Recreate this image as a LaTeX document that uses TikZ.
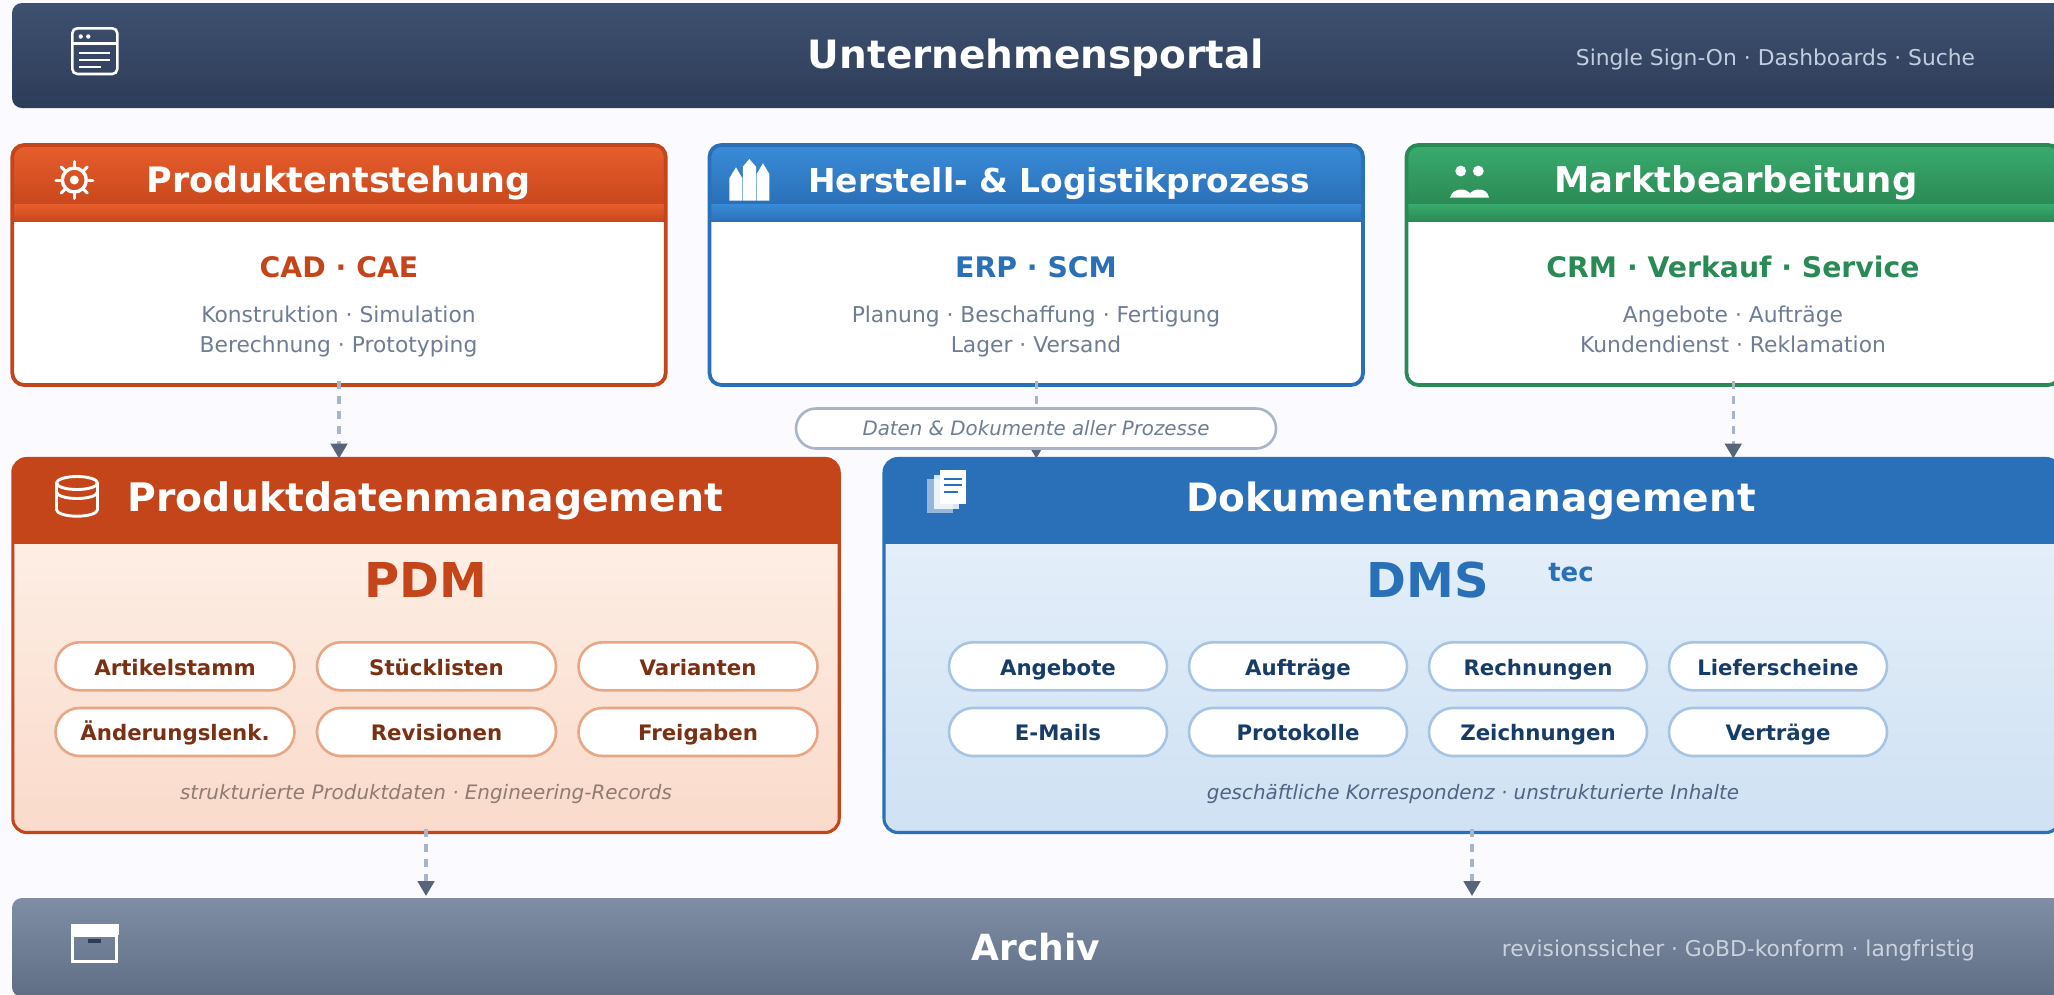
\documentclass[tikz,border=0pt]{standalone}
\usepackage{fontspec}
\setmainfont{DejaVu Sans}
\usetikzlibrary{arrows.meta,calc}
\definecolor{bgc}{HTML}{FAFAFF}
\definecolor{orgS}{HTML}{C4451A}\definecolor{orgT}{HTML}{E85D2D}\definecolor{orgB}{HTML}{C9481C}
\definecolor{bluS}{HTML}{2A70B8}\definecolor{bluT}{HTML}{3A8BD8}\definecolor{bluB}{HTML}{2A70B8}
\definecolor{grnS}{HTML}{2A8A55}\definecolor{grnT}{HTML}{3AAB6E}\definecolor{grnB}{HTML}{2A8A55}
\definecolor{navyT}{HTML}{3F5170}\definecolor{navyB}{HTML}{2D3C58}
\definecolor{greyT}{HTML}{7F8EA5}\definecolor{greyB}{HTML}{5F6E85}
\definecolor{subC}{HTML}{6F7D93}
\definecolor{dashC}{HTML}{A9B4C6}\definecolor{tipC}{HTML}{566579}
\definecolor{pdmT}{HTML}{FDEEE4}\definecolor{pdmB}{HTML}{FADACB}
\definecolor{dmsT}{HTML}{E3EEF9}\definecolor{dmsB}{HTML}{CFE1F3}
\definecolor{pillO}{HTML}{E8A684}\definecolor{pillB}{HTML}{A6C4E4}
\definecolor{txtO}{HTML}{7A3012}\definecolor{txtB}{HTML}{173C68}
\definecolor{barT}{HTML}{C3CDE0}\definecolor{barA}{HTML}{CAD2DE}
\definecolor{capO}{HTML}{8F7B72}\definecolor{capB}{HTML}{4F6582}
\tikzset{
  x=1pt,y=-1pt,
  lbl/.style={anchor=base,inner sep=0pt,outer sep=0pt},
  title/.style={lbl,text=white,font=\fontsize{39}{39}\bfseries\selectfont},
  cardtitle/.style={lbl,text=white,font=\fontsize{35}{35}\bfseries\selectfont},
  cardhead/.style={lbl,font=\fontsize{28.3}{29}\bfseries\selectfont},
  cardsub/.style={lbl,text=subC,font=\fontsize{21.8}{22}\selectfont},
  barsub/.style={lbl,anchor=base east,font=\fontsize{21.8}{22}\selectfont},
  caption/.style={lbl,font=\fontsize{19.9}{20}\itshape\selectfont},
  big/.style={lbl,font=\fontsize{48}{48}\bfseries\selectfont},
  cardframe/.style={draw=#1,line width=3.8pt,rounded corners=12pt,inner sep=0pt,outer sep=0pt,minimum height=240pt},
  sysframe/.style={draw=#1,line width=3.1pt,rounded corners=14pt,inner sep=0pt,outer sep=0pt,minimum height=374pt},
  pillbase/.style={fill=white,line width=2.6pt,rounded corners=24pt,inner sep=0pt,outer sep=0pt,
    minimum height=48pt,text height=17.4pt,text depth=0pt,font=\fontsize{21.3}{22}\bfseries\selectfont},
  pillo/.style={pillbase,draw=pillO,text=txtO,minimum width=239pt},
  pillb/.style={pillbase,draw=pillB,text=txtB,minimum width=218pt},
  conn/.style={draw=dashC,line width=3.4pt,dash pattern=on 8pt off 7pt,
    -{Triangle[width=16.5pt,length=15pt,color=tipC,fill=tipC]}},
  iconline/.style={draw=white,line width=2.6pt},
}
\begin{document}
\begin{tikzpicture}
\useasboundingbox (0,0) rectangle (2054,994);
\clip (0,0) rectangle (2054,994);
\fill[bgc] (0,0) rectangle (2054,994);

% Top bar
\shade[top color=navyT,bottom color=navyB,rounded corners=10pt] (12,3) rectangle (2070,108);
\node[title] (portal) at (1036,68) {Unternehmensportal};
\node[barsub,text=barT] (portalsub) at (1975,65) {Single Sign-On · Dashboards · Suche};
\draw[iconline,rounded corners=5pt] (72.3,28.3) rectangle (117.3,74);
\draw[iconline] (72.3,43.3) -- (117.3,43.3);
\fill[white] (80.7,36.5) circle (2.2) (88.3,36.5) circle (2.2);
\draw[white,line width=2.2pt] (79.3,53.3) -- (110,53.3) (79.3,60) -- (110,60) (79.3,66.7) -- (101.3,66.7);

% Cards
\begin{scope}
\clip[rounded corners=12pt] (12.3,145) rectangle (665.7,385);
\fill[white] (12.3,145) rectangle (665.7,385);
\shade[top color=orgT,bottom color=orgB] (12.3,145) rectangle (665.7,204);
\shade[top color=orgT,bottom color=orgB] (12.3,204) rectangle (665.7,221);
\end{scope}
\node[cardframe=orgS,minimum width=653.4pt] (c1) at (339,265) {};
\begin{scope}
\clip[rounded corners=12pt] (709.5,145) rectangle (1363,385);
\fill[white] (709.5,145) rectangle (1363,385);
\shade[top color=bluT,bottom color=bluB] (709.5,145) rectangle (1363,204);
\shade[top color=bluT,bottom color=bluB] (709.5,204) rectangle (1363,221);
\end{scope}
\node[cardframe=bluS,minimum width=653.5pt] (c2) at (1036.25,265) {};
\begin{scope}
\clip[rounded corners=12pt] (1406.5,145) rectangle (2060,385);
\fill[white] (1406.5,145) rectangle (2060,385);
\shade[top color=grnT,bottom color=grnB] (1406.5,145) rectangle (2060,204);
\shade[top color=grnT,bottom color=grnB] (1406.5,204) rectangle (2060,221);
\end{scope}
\node[cardframe=grnS,minimum width=653.5pt] (c3) at (1733.25,265) {};

\node[cardtitle] (t1) at (338.5,192) {Produktentstehung};
\node[cardtitle,font=\fontsize{32.9}{33}\bfseries\selectfont] (t2) at (1059,192) {Herstell- \& Logistikprozess};
\node[cardtitle,font=\fontsize{35.5}{36}\bfseries\selectfont] (t3) at (1736,192) {Marktbearbeitung};
\node[cardhead,text=orgS] (h1) at (339,277) {CAD · CAE};
\node[cardhead,text=bluS] (h2) at (1036,277) {ERP · SCM};
\node[cardhead,text=grnS] (h3) at (1733,277) {CRM · Verkauf · Service};
\node[cardsub] (s11) at (338.5,322) {Konstruktion · Simulation};
\node[cardsub] (s12) at (338.5,352.5) {Berechnung · Prototyping};
\node[cardsub] (s21) at (1036,322) {Planung · Beschaffung · Fertigung};
\node[cardsub] (s22) at (1036,352.5) {Lager · Versand};
\node[cardsub] (s31) at (1733,322) {Angebote · Aufträge};
\node[cardsub] (s32) at (1733,352.5) {Kundendienst · Reklamation};

% gear icon
\draw[white,line width=3.4pt] (74.3,180) circle (12);
\fill[white] (74.3,180) circle (4.5);
\foreach \a in {0,45,...,315}
  \draw[white,line width=3pt,line cap=round] ($(74.3,180)+(\a:13)$) -- ($(74.3,180)+(\a:18.5)$);
% factory icon
\fill[white] (729.3,200.7) -- (729.3,178.3) -- (736,167.3) -- (742.3,178.3) -- (742.3,200.7) -- cycle;
\fill[white] (742.8,200.7) -- (742.8,166.7) -- (749.3,159) -- (756,166.7) -- (756,200.7) -- cycle;
\fill[white] (756.6,200.7) -- (756.6,174) -- (763,163.3) -- (769.3,174) -- (769.3,200.7) -- cycle;
% people icon
\fill[white] (1460.7,171) circle (5.4) (1478.3,171) circle (5.4);
\fill[white] (1450,197.7) .. controls (1451.5,192) and (1456,189.5) .. (1461,189.5) .. controls (1465,189.5) and (1468,191) .. (1470,193) .. controls (1472,191) and (1475,189.5) .. (1479,189.5) .. controls (1484,189.5) and (1488,192) .. (1489,197.7) -- cycle;

% Systems
\begin{scope}
\clip[rounded corners=14pt] (12.8,458.5) rectangle (839.2,832.5);
\shade[top color=pdmT,bottom color=pdmB] (12.8,544) rectangle (839.2,832.5);
\fill[orgS] (12.8,458.5) rectangle (839.2,544);
\end{scope}
\node[sysframe=orgS,minimum width=826.4pt] (pdm) at (426,645.5) {};
\begin{scope}
\clip[rounded corners=14pt] (884,458.5) rectangle (2060,832.5);
\shade[top color=dmsT,bottom color=dmsB] (884,544) rectangle (2060,832.5);
\fill[bluS] (884,458.5) rectangle (2060,544);
\end{scope}
\node[sysframe=bluS,minimum width=1176pt] (dms) at (1472,645.5) {};

\node[title,font=\fontsize{39.3}{40}\bfseries\selectfont] (pdmtitle) at (425.5,511) {Produktdatenmanagement};
\node[title] (dmstitle) at (1471,511) {Dokumentenmanagement};
\node[big,text=orgS] (pdmbig) at (426,597.5) {PDM};
\node[big,text=bluS] (dmsbig) at (1428,597.5) {DMS};
\node[lbl,text=bluS,font=\fontsize{26}{26}\bfseries\selectfont] (dmstec) at (1571,581) {tec};

% db icon
\draw[iconline,line width=2.9pt] (56.5,483) -- (56.5,509.7) arc[start angle=180,end angle=0,x radius=20.5,y radius=6.5] -- (97.5,483);
\draw[iconline,line width=2.9pt] (77,483) ellipse (20.5 and 6.5);
\draw[iconline,line width=2.9pt] (56.5,492) arc[start angle=180,end angle=0,x radius=20.5,y radius=6.5];
% doc icon
\fill[white,opacity=.5] (927.3,479) rectangle (952.7,513.3);
\fill[white,opacity=.82] (933.7,474.7) rectangle (959.3,509.3);
\fill[white] (940,470) rectangle (966,504.3);
\draw[bluS,line width=2pt] (944.3,478.7) -- (962,478.7) (944.3,485) -- (962,485) (944.3,491.7) -- (957.7,491.7);

% PDM items
\node[pillo] (p1) at (175,666.3) {Artikelstamm};
\node[pillo] (p2) at (436.5,666.3) {Stücklisten};
\node[pillo] (p3) at (698,666.3) {Varianten};
\node[pillo] (p4) at (175,732) {Änderungslenk.};
\node[pillo] (p5) at (436.5,732) {Revisionen};
\node[pillo] (p6) at (698,732) {Freigaben};
\node[caption,text=capO] (pdmcap) at (426,799.5) {strukturierte Produktdaten · Engineering-Records};

% DMS items
\node[pillb] (d1) at (1058,666.3) {Angebote};
\node[pillb] (d2) at (1298,666.3) {Aufträge};
\node[pillb] (d3) at (1538,666.3) {Rechnungen};
\node[pillb] (d4) at (1778,666.3) {Lieferscheine};
\node[pillb] (d5) at (1058,732) {E-Mails};
\node[pillb] (d6) at (1298,732) {Protokolle};
\node[pillb] (d7) at (1538,732) {Zeichnungen};
\node[pillb] (d8) at (1778,732) {Verträge};
\node[caption,text=capB] (dmscap) at (1473,799.5) {geschäftliche Korrespondenz · unstrukturierte Inhalte};

% Archive bar
\shade[top color=greyT,bottom color=greyB,rounded corners=10pt] (12,898) rectangle (2070,997);
\coordinate (arch) at (1036,896);
\node[title,font=\fontsize{36}{36}\bfseries\selectfont] (archiv) at (1036,960) {Archiv};
\node[barsub,text=barA] (archivsub) at (1975,956) {revisionssicher · GoBD-konform · langfristig};
\draw[white,line width=3pt] (72.7,935) rectangle (116.8,961);
\fill[white] (70.7,923.7) rectangle (118.7,935);
\fill[navyB] (88,939) rectangle (101.3,943.3);

% Connectors
\coordinate (archA) at (pdm.south |- arch);
\coordinate (archB) at (dms.south |- arch);
\draw[conn] ([yshift=4pt]c1.south) -- (c1.south |- pdm.north);
\draw[conn] ([yshift=4pt]c2.south) -- (c2.south |- dms.north);
\draw[conn] ([yshift=4pt]c3.south) -- (c3.south |- dms.north);
\draw[conn] ([yshift=4pt]pdm.south) -- (archA);
\draw[conn] ([yshift=4pt]dms.south) -- (archB);
\node[fill=white,draw=dashC,line width=2.6pt,rounded corners=20pt,inner sep=0pt,outer sep=0pt,
  minimum width=480pt,minimum height=40pt,text=subC,text height=14.5pt,text depth=0pt,
  font=\fontsize{19.8}{20}\itshape\selectfont] (flow) at (1036,428.5) {Daten \& Dokumente aller Prozesse};
\end{tikzpicture}
\end{document}
